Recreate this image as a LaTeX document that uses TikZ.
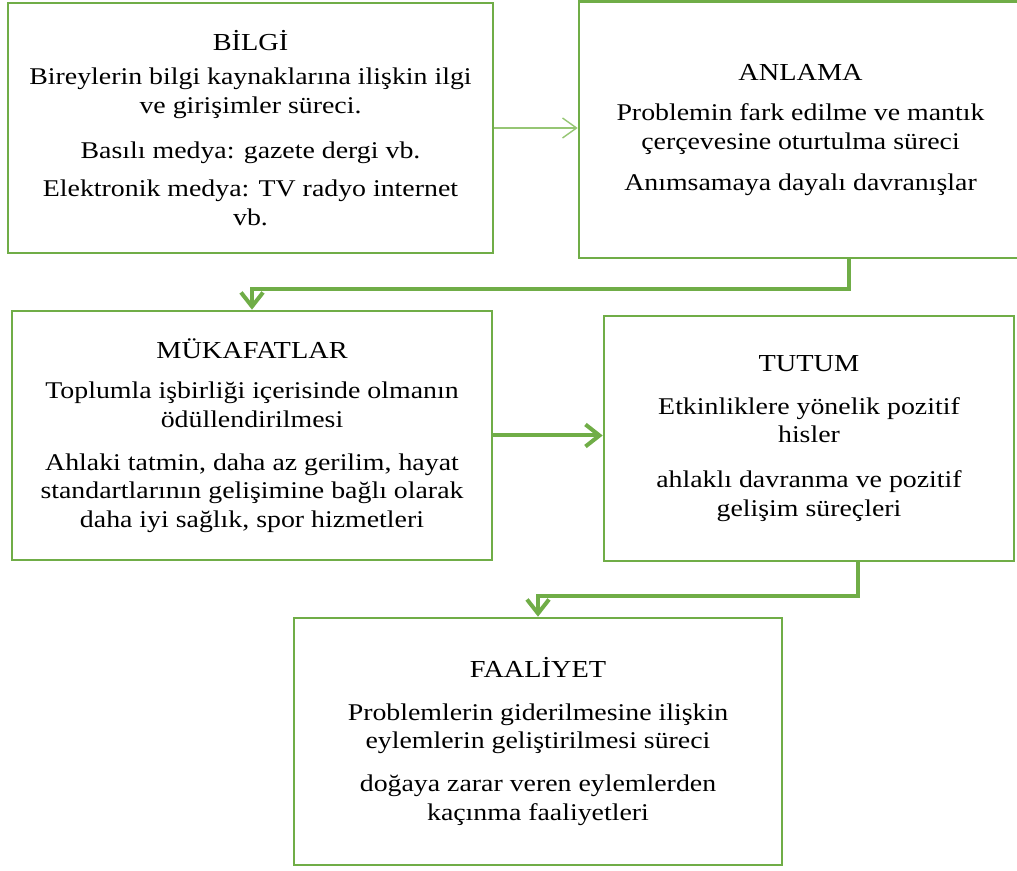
\documentclass[tikz,border=0pt]{standalone}
\usepackage{fontspec}
\setmainfont[FakeStretch=1.16]{Liberation Serif}
\usetikzlibrary{arrows.meta,calc}
\definecolor{boxgreen}{RGB}{112,173,71}
\definecolor{linkgreen}{RGB}{150,198,116}
\newcommand{\stagetitle}[1]{{\fontsize{12.2}{14}\selectfont #1}}

\begin{document}
\begin{tikzpicture}[x=0.5pt, y=-0.5pt,
    stage/.style={draw=boxgreen, line width=1.3pt, fill=white, align=center,
                  inner sep=0pt, font=\fontsize{12}{14.3}\selectfont},
    arrow/.style={draw=boxgreen, line width=2pt, -{Straight Barb[length=7pt, width=11pt]}},
    thin-arrow/.style={draw=linkgreen, line width=0.7pt, -{Straight Barb[length=7pt, width=10pt]}}
]
\useasboundingbox (0,0) rectangle (1017,871);

% Stage boxes
\node[stage, minimum width=242.5pt, minimum height=125pt] (bilgi) at (250.5,128) {
    \stagetitle{BİLGİ}\\[3pt]
    Bireylerin bilgi kaynaklarına ilişkin ilgi\\
    ve girişimler süreci.\\[8pt]
    Basılı medya: gazete dergi vb.\\[5pt]
    Elektronik medya: TV radyo internet\\
    vb.};

\node[stage, minimum width=221.5pt, minimum height=128.25pt] (anlama) at (800.5,129.75) {
    \stagetitle{ANLAMA}\\[6pt]
    Problemin fark edilme ve mantık\\
    çerçevesine oturtulma süreci\\[6pt]
    Anımsamaya dayalı davranışlar};

\node[stage, minimum width=240pt, minimum height=124.5pt] (mukafat) at (252,435.5) {
    \stagetitle{MÜKAFATLAR}\\[6pt]
    Toplumla işbirliği içerisinde olmanın\\
    ödüllendirilmesi\\[7pt]
    Ahlaki tatmin, daha az gerilim, hayat\\
    standartlarının gelişimine bağlı olarak\\
    daha iyi sağlık, spor hizmetleri};

\node[stage, minimum width=205pt, minimum height=122.5pt] (tutum) at (809,438.5) {
    \stagetitle{TUTUM}\\[7pt]
    Etkinliklere yönelik pozitif\\
    hisler\\[8pt]
    ahlaklı davranma ve pozitif\\
    gelişim süreçleri};

\node[stage, minimum width=244pt, minimum height=123.5pt] (faaliyet) at (538,741.5) {
    \stagetitle{FAALİYET}\\[7pt]
    Problemlerin giderilmesine ilişkin\\
    eylemlerin geliştirilmesi süreci\\[7pt]
    doğaya zarar veren eylemlerden\\
    kaçınma faaliyetleri};

% Connectors between stages
\draw[thin-arrow] (bilgi.east) -- (bilgi.east -| anlama.west);
\draw[arrow] ([xshift=24pt]anlama.south) -- ++(0,-15pt) -| (mukafat.north);
\draw[arrow] (mukafat.east) -- (mukafat.east -| tutum.west);
\draw[arrow] ([xshift=24.5pt]tutum.south) -- ++(0,-17pt) -| (faaliyet.north);

\end{tikzpicture}
\end{document}
